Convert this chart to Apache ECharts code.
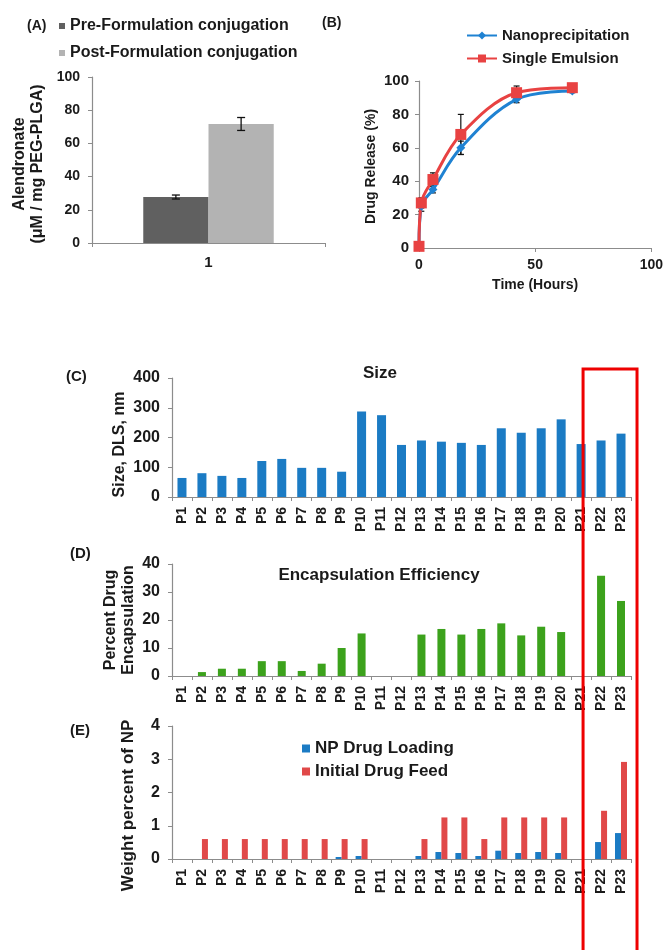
<!DOCTYPE html>
<html>
<head>
<meta charset="utf-8">
<script src="https://cdn.jsdelivr.net/npm/echarts@6/dist/echarts.min.js"></script>
<style>html,body{margin:0;padding:0;background:#fff}#c{width:666px;height:950px}</style>
</head>
<body>
<div id="c"></div>
<script>
// ---- Panel A data ----
const aCats = ['1'];
const preConj = [27.7];
const preConjErr = [1.2];
const postConj = [71.7];
const postConjErr = [3.9];

// ---- Panel B data ----
const releaseTimes = [0, 1, 6, 18, 42, 66];
const nanoRelease = [1, 25, 35, 60, 89, 94];
const nanoErr = [0, 3, 2, 4, 2, 1];
const singleRelease = [1, 27, 41, 68, 93, 96];
const singleErr = [0, 3, 4, 12, 4, 1];

// ---- Panels C, D, E data ----
const pCats = ['P1','P2','P3','P4','P5','P6','P7','P8','P9','P10','P11','P12','P13','P14','P15','P16','P17','P18','P19','P20','P21','P22','P23'];
const sizeDLS = [64, 80, 71, 64, 121, 128, 98, 98, 85, 287, 275, 175, 190, 186, 182, 175, 231, 216, 231, 261, 178, 190, 213];
const encapEff = [0, 1.4, 2.6, 2.6, 5.3, 5.3, 1.8, 4.4, 10.0, 15.2, 0, 0, 14.8, 16.8, 14.8, 16.8, 18.8, 14.5, 17.6, 15.7, 0, 35.8, 26.8];
const npLoading = [0, 0, 0, 0, 0, 0, 0, 0, 0.06, 0.09, 0, 0, 0.09, 0.21, 0.18, 0.09, 0.25, 0.18, 0.21, 0.18, 0, 0.51, 0.78];
const drugFeed = [0, 0.6, 0.6, 0.6, 0.6, 0.6, 0.6, 0.6, 0.6, 0.6, 0, 0, 0.6, 1.25, 1.25, 0.6, 1.25, 1.25, 1.25, 1.25, 0, 1.45, 2.92];

const FONT = '"Liberation Sans", Arial, sans-serif';
const AXC = '#8c8c8c';
const TXT = '#1a1a1a';

const chart = echarts.init(document.getElementById('c'), null, {renderer: 'canvas'});

function axisCommon(fs) {
  return {
    nameMoveOverlap: false,
    axisLine: {show: true, lineStyle: {color: AXC, width: 1.2}},
    axisTick: {show: true, length: 4, lineStyle: {color: AXC}},
    splitLine: {show: false},
    axisLabel: {color: TXT, fontWeight: 'bold', fontSize: fs, fontFamily: FONT},
    nameTextStyle: {color: TXT, fontWeight: 'bold', fontFamily: FONT}
  };
}

function catAxis(gi) {
  const c = axisCommon(14);
  return Object.assign(c, {
    type: 'category', gridIndex: gi, data: pCats,
    axisTick: {show: true, length: 4, alignWithLabel: false, lineStyle: {color: AXC}},
    axisLabel: Object.assign(c.axisLabel, {rotate: 90, margin: 10, interval: 0})
  });
}

// error bar renderer for grouped bars (panel A)
function barErr(sign, frac) {
  return function (params, api) {
    const ci = api.value(0), v = api.value(1), e = api.value(2);
    const band = api.size([1, 0])[0];
    const c = api.coord([ci, v]);
    const x = c[0] + sign * band * frac;
    const top = api.coord([ci, v + e])[1];
    const bot = api.coord([ci, v - e])[1];
    const st = {stroke: '#111', lineWidth: 1.3};
    return {type: 'group', children: [
      {type: 'line', shape: {x1: x, y1: top, x2: x, y2: bot}, style: st},
      {type: 'line', shape: {x1: x - 4, y1: top, x2: x + 4, y2: top}, style: st},
      {type: 'line', shape: {x1: x - 4, y1: bot, x2: x + 4, y2: bot}, style: st}
    ]};
  };
}
function xyErr(params, api) {
  const t = api.value(0), v = api.value(1), e = api.value(2);
  if (!e) return null;
  const x = api.coord([t, v])[0];
  const top = api.coord([t, v + e])[1];
  const bot = api.coord([t, v - e])[1];
  const st = {stroke: '#111', lineWidth: 1.2};
  return {type: 'group', children: [
    {type: 'line', shape: {x1: x, y1: top, x2: x, y2: bot}, style: st},
    {type: 'line', shape: {x1: x - 3, y1: top, x2: x + 3, y2: top}, style: st},
    {type: 'line', shape: {x1: x - 3, y1: bot, x2: x + 3, y2: bot}, style: st}
  ]};
}

const titleStyle = (fs) => ({color: TXT, fontWeight: 'bold', fontSize: fs, fontFamily: FONT});

const option = {
  backgroundColor: '#fff',
  animation: false,
  title: [
    {text: '(A)', left: 22, top: 14, textStyle: titleStyle(14)},
    {text: '(B)', left: 317, top: 11, textStyle: titleStyle(14)},
    {text: '(C)', left: 61, top: 364, textStyle: titleStyle(15)},
    {text: '(D)', left: 65, top: 541, textStyle: titleStyle(15)},
    {text: '(E)', left: 65, top: 718, textStyle: titleStyle(15)},
    {text: 'Size', left: 375, top: 360, textAlign: 'center', textStyle: titleStyle(17)},
    {text: 'Encapsulation Efficiency', left: 374, top: 562, textAlign: 'center', textStyle: titleStyle(17)}
  ],
  legend: [
    {
      data: ['Pre-Formulation conjugation', 'Post-Formulation conjugation'],
      orient: 'vertical', left: 59, top: 18, padding: 0, itemWidth: 6, itemHeight: 6, itemGap: 11,
      icon: 'rect',
      textStyle: {color: TXT, fontWeight: 'bold', fontSize: 16, fontFamily: FONT}
    },
    {
      data: ['Nanoprecipitation', 'Single Emulsion'],
      orient: 'vertical', left: 461, top: 23, itemWidth: 30, itemHeight: 10, itemGap: 8,
      textStyle: {color: TXT, fontWeight: 'bold', fontSize: 15, fontFamily: FONT}
    },
    {
      data: ['NP Drug Loading', 'Initial Drug Feed'],
      orient: 'vertical', left: 297, top: 735, itemWidth: 8, itemHeight: 8, itemGap: 6,
      icon: 'rect',
      textStyle: {color: TXT, fontWeight: 'bold', fontSize: 17, fontFamily: FONT}
    }
  ],
  grid: [
    {left: 92, top: 77, width: 233, height: 166},
    {left: 419, top: 81, width: 233, height: 167},
    {left: 172, top: 378, width: 459, height: 119},
    {left: 172, top: 564, width: 459, height: 112},
    {left: 172, top: 726, width: 459, height: 133}
  ],
  xAxis: [
    Object.assign(axisCommon(15), {type: 'category', gridIndex: 0, data: aCats,
      axisLabel: {color: TXT, fontWeight: 'bold', fontSize: 15, fontFamily: FONT, margin: 12}}),
    Object.assign(axisCommon(14), {type: 'value', gridIndex: 1, min: 0, max: 100, interval: 50,
      name: 'Time (Hours)', nameLocation: 'middle', nameGap: 30,
      nameTextStyle: {color: TXT, fontWeight: 'bold', fontSize: 14, fontFamily: FONT},
      axisLabel: {color: TXT, fontWeight: 'bold', fontSize: 14, fontFamily: FONT, margin: 10}}),
    catAxis(2),
    catAxis(3),
    catAxis(4)
  ],
  yAxis: [
    Object.assign(axisCommon(14), {type: 'value', gridIndex: 0, min: 0, max: 100, interval: 20,
      name: 'Alendronate\n(μM / mg PEG-PLGA)', nameLocation: 'middle', nameGap: 45, nameRotate: 90,
      nameTextStyle: {color: TXT, fontWeight: 'bold', fontSize: 16, fontFamily: FONT, lineHeight: 18, padding: [0, 8, 0, 0]},
      axisLabel: {color: TXT, fontWeight: 'bold', fontSize: 14, fontFamily: FONT, margin: 12}}),
    Object.assign(axisCommon(15), {type: 'value', gridIndex: 1, min: 0, max: 100, interval: 20,
      name: 'Drug Release (%)', nameLocation: 'middle', nameGap: 41, nameRotate: 90,
      nameTextStyle: {color: TXT, fontWeight: 'bold', fontSize: 14, fontFamily: FONT, padding: [0, 4, 0, 0]},
      axisLabel: {color: TXT, fontWeight: 'bold', fontSize: 15, fontFamily: FONT, margin: 10}}),
    Object.assign(axisCommon(16), {type: 'value', gridIndex: 2, min: 0, max: 400, interval: 100,
      name: 'Size, DLS, nm', nameLocation: 'middle', nameGap: 44, nameRotate: 90,
      nameTextStyle: {color: TXT, fontWeight: 'bold', fontSize: 16, fontFamily: FONT, padding: [0, 14, 0, 0]},
      axisLabel: {color: TXT, fontWeight: 'bold', fontSize: 16, fontFamily: FONT, margin: 12}}),
    Object.assign(axisCommon(16), {type: 'value', gridIndex: 3, min: 0, max: 40, interval: 10,
      name: 'Percent Drug\nEncapsulation', nameLocation: 'middle', nameGap: 34, nameRotate: 90,
      nameTextStyle: {color: TXT, fontWeight: 'bold', fontSize: 16, fontFamily: FONT, lineHeight: 18},
      axisLabel: {color: TXT, fontWeight: 'bold', fontSize: 16, fontFamily: FONT, margin: 12}}),
    Object.assign(axisCommon(16), {type: 'value', gridIndex: 4, min: 0, max: 4, interval: 1,
      name: 'Weight percent of NP', nameLocation: 'middle', nameGap: 35, nameRotate: 90,
      nameTextStyle: {color: TXT, fontWeight: 'bold', fontSize: 17, fontFamily: FONT, padding: [0, 26, 0, 0]},
      axisLabel: {color: TXT, fontWeight: 'bold', fontSize: 16, fontFamily: FONT, margin: 12}})
  ],
  series: [
    {name: 'Pre-Formulation conjugation', type: 'bar', xAxisIndex: 0, yAxisIndex: 0,
      data: preConj, barWidth: '28%', barGap: '0%', itemStyle: {color: '#606060'}},
    {name: 'Post-Formulation conjugation', type: 'bar', xAxisIndex: 0, yAxisIndex: 0,
      data: postConj, barWidth: '28%', barGap: '0%', itemStyle: {color: '#b3b3b3'}},
    {type: 'custom', xAxisIndex: 0, yAxisIndex: 0, z: 5,
      data: preConj.map((v, i) => [i, v, preConjErr[i]]), renderItem: barErr(-1, 0.14)},
    {type: 'custom', xAxisIndex: 0, yAxisIndex: 0, z: 5,
      data: postConj.map((v, i) => [i, v, postConjErr[i]]), renderItem: barErr(1, 0.14)},

    {name: 'Nanoprecipitation', type: 'line', xAxisIndex: 1, yAxisIndex: 1, smooth: 0.35,
      data: releaseTimes.map((t, i) => [t, nanoRelease[i]]),
      symbol: 'diamond', symbolSize: 9,
      lineStyle: {color: '#1f82d2', width: 3}, itemStyle: {color: '#1f82d2'}},
    {name: 'Single Emulsion', type: 'line', xAxisIndex: 1, yAxisIndex: 1, smooth: 0.35,
      data: releaseTimes.map((t, i) => [t, singleRelease[i]]),
      symbol: 'rect', symbolSize: 11,
      lineStyle: {color: '#e84242', width: 3}, itemStyle: {color: '#e84242'}},
    {type: 'custom', xAxisIndex: 1, yAxisIndex: 1, z: 1,
      data: releaseTimes.map((t, i) => [t, nanoRelease[i], nanoErr[i]]), renderItem: xyErr},
    {type: 'custom', xAxisIndex: 1, yAxisIndex: 1, z: 1,
      data: releaseTimes.map((t, i) => [t, singleRelease[i], singleErr[i]]), renderItem: xyErr},

    {name: 'Size', type: 'bar', xAxisIndex: 2, yAxisIndex: 2, data: sizeDLS,
      barWidth: 9, itemStyle: {color: '#1b7bc4'}},
    {name: 'Encapsulation', type: 'bar', xAxisIndex: 3, yAxisIndex: 3, data: encapEff,
      barWidth: 8, itemStyle: {color: '#3ca21c'}},
    {name: 'NP Drug Loading', type: 'bar', xAxisIndex: 4, yAxisIndex: 4, data: npLoading,
      barWidth: 6, barGap: '0%', itemStyle: {color: '#1b7bc4'}},
    {name: 'Initial Drug Feed', type: 'bar', xAxisIndex: 4, yAxisIndex: 4, data: drugFeed,
      barWidth: 6, barGap: '0%', itemStyle: {color: '#e04848'}}
  ]
};
chart.setOption(option);

// red highlight box around P22-P23 (annotation)
const pL = chart.convertToPixel({xAxisIndex: 2, yAxisIndex: 2}, ['P22', 400]);
const pR = chart.convertToPixel({xAxisIndex: 2, yAxisIndex: 2}, ['P23', 400]);
chart.setOption({
  graphic: [{
    type: 'rect', z: 100,
    shape: {x: pL[0] - 18, y: pL[1] - 9, width: (pR[0] + 16) - (pL[0] - 18), height: 700},
    style: {fill: 'none', stroke: '#ee0000', lineWidth: 3}
  }]
});
</script>
</body>
</html>
